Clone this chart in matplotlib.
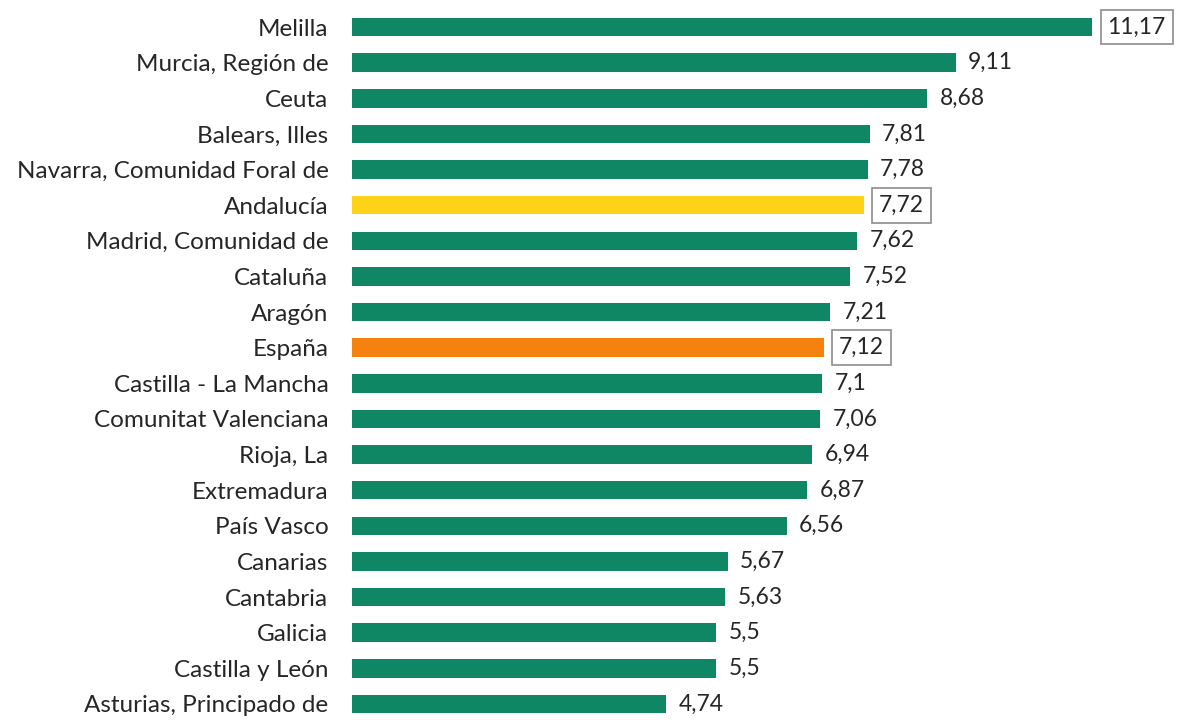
import matplotlib
matplotlib.use("Agg")
import matplotlib.pyplot as plt

categories = ["Melilla", "Murcia, Región de", "Ceuta", "Balears, Illes",
              "Navarra, Comunidad Foral de", "Andalucía", "Madrid, Comunidad de",
              "Cataluña", "Aragón", "España", "Castilla - La Mancha",
              "Comunitat Valenciana", "Rioja, La", "Extremadura", "País Vasco",
              "Canarias", "Cantabria", "Galicia", "Castilla y León",
              "Asturias, Principado de"]
values = [11.17, 9.11, 8.68, 7.81, 7.78, 7.72, 7.62, 7.52, 7.21, 7.12, 7.1,
          7.06, 6.94, 6.87, 6.56, 5.67, 5.63, 5.5, 5.5, 4.74]
value_labels = ["11,17", "9,11", "8,68", "7,81", "7,78", "7,72", "7,62", "7,52",
                "7,21", "7,12", "7,1", "7,06", "6,94", "6,87", "6,56", "5,67",
                "5,63", "5,5", "5,5", "4,74"]
boxed = ["Melilla", "Andalucía", "España"]

GREEN = "#0F8765"
YELLOW = "#FFD21A"
ORANGE = "#F5820F"
colors = []
for c in categories:
    if c == "Andalucía":
        colors.append(YELLOW)
    elif c == "España":
        colors.append(ORANGE)
    else:
        colors.append(GREEN)

plt.rcParams['font.family'] = ['Lato', 'DejaVu Sans']
FS = 16.5

fig = plt.figure(figsize=(11.77, 7.2), dpi=100)
ax = fig.add_axes([352 / 1177, 0, 1 - 352 / 1177, 1])
y = list(range(len(categories)))
ax.barh(y, values, height=0.52, color=colors)
ax.set_ylim(19.45, -0.758)
ax.set_xlim(0, 12.45)
ax.set_yticks(y)
ax.set_yticklabels(categories, fontsize=17.5, color="#262626")
ax.tick_params(axis='y', length=0, pad=17)
ax.set_xticks([])
for s in ax.spines.values():
    s.set_visible(False)

for i, (v, lab, c) in enumerate(zip(values, value_labels, categories)):
    if c in boxed:
        ax.annotate(lab, (v, i), xytext=(11, 0), textcoords="offset points",
                    va="center", ha="left", fontsize=FS, color="#262626",
                    bbox=dict(boxstyle="square,pad=0.3", fc="white", ec="#8c8c8c", lw=1.2))
    else:
        ax.annotate(lab, (v, i), xytext=(9, 0), textcoords="offset points",
                    va="center", ha="left", fontsize=FS, color="#262626")

fig.savefig("out.png", dpi=100)
